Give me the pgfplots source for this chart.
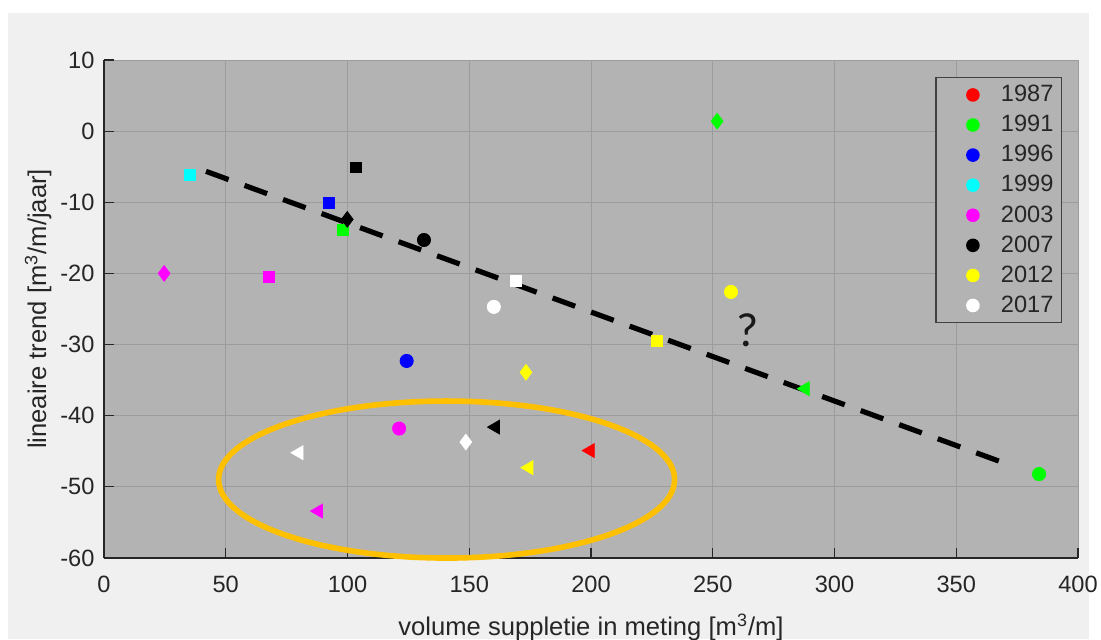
\documentclass[border=0pt]{standalone}
\usepackage{pgfplots}
\usepackage{pgfplotstable}
\pgfplotsset{compat=1.18}
\usepackage{fontspec}
\setmainfont{Liberation Sans}
\newfontfamily\qfont{Carlito}

\definecolor{figbg}{HTML}{F0F0F0}
\definecolor{axbg}{HTML}{B3B3B3}
\definecolor{gridc}{HTML}{9C9C9C}
\definecolor{txt}{HTML}{262626}
\definecolor{legc}{HTML}{404040}
\definecolor{gold}{HTML}{FFC000}
\definecolor{mred}{HTML}{FF0000}
\definecolor{mgreen}{HTML}{00FF00}
\definecolor{mblue}{HTML}{0000FF}
\definecolor{mcyan}{HTML}{00FFFF}
\definecolor{mmag}{HTML}{FF00FF}
\definecolor{myel}{HTML}{FFFF00}

% shape = measuring section, colour = year
\pgfplotstableread{
x     y     c
124.3 -32.3 bl
121.2 -41.8 mg
131.4 -15.3 bk
160.1 -24.7 wh
257.5 -22.6 ye
384.0 -48.2 gr
}\circles
\pgfplotstableread{
x     y     c
35.2  -6.1  cy
67.6  -20.5 mg
92.4  -10.1 bl
103.6 -5.1  bk
98.1  -13.9 gr
169.3 -21.0 wh
226.9 -29.5 ye
}\squares
\pgfplotstableread{
x     y     c
24.7  -20.0 mg
99.9  -12.4 bk
251.8 1.4   gr
173.3 -33.9 ye
148.6 -43.7 wh
}\diamonds
\pgfplotstableread{
x     y     c
80.1  -45.2 wh
88.1  -53.4 mg
160.8 -41.6 bk
174.5 -47.3 ye
199.7 -44.9 rd
288.0 -36.2 gr
}\triangles

\newcommand{\legdot}[1]{\addlegendimage{legend image code/.code={\fill[#1, draw=none] (15.5pt,0pt) circle[radius=3.4pt]; \path[draw=none, fill=none] (0pt,0pt) -- (28.5pt,0pt);}}}

\pgfplotsset{years/.style={only marks, scatter, scatter src=explicit symbolic, forget plot,
  scatter/classes={rd={mred}, gr={mgreen}, bl={mblue}, cy={mcyan}, mg={mmag}, bk={black}, ye={myel}, wh={white}}}}

\begin{document}
\begin{tikzpicture}
\fill[white] (-52pt,-40.5pt) rectangle (498.5pt,279pt);
\fill[figbg] (-48pt,-40.5pt) rectangle (492.5pt,272.5pt);
\begin{axis}[
  at={(0pt,0pt)}, anchor=south west,
  scale only axis, width=487pt, height=249pt,
  xmin=0, xmax=400, ymin=-60, ymax=10,
  xtick={0,50,...,400}, ytick={-60,-50,...,10},
  axis background/.style={fill=axbg},
  axis x line*=bottom, axis y line*=left,
  axis line style={txt, line width=0.6pt},
  tick align=inside, major tick length=5pt,
  tick style={txt, line width=0.6pt},
  grid=major, major grid style={gridc, line width=0.5pt},
  /pgf/number format/assume math mode=true,
  ticklabel style={font=\fontsize{11.8}{13}\selectfont, text=txt},
  xticklabel style={anchor=base, yshift=-17.3pt},
  yticklabel style={anchor=east, inner sep=0pt, xshift=-4.6pt},
  label style={font=\fontsize{12.8}{14}\selectfont, text=txt},
  xlabel={volume suppletie in meting [m\textsuperscript{3}/m]},
  ylabel={lineaire trend [m\textsuperscript{3}/m/jaar]},
  xlabel style={at={(0.5,-0.1546)}, anchor=base},
  ylabel style={at={(-0.0595,0.5)}, anchor=base},
  clip=false,
  legend style={at={(1,1)}, anchor=north east, xshift=-8pt, yshift=-8.5pt,
    fill=axbg, draw=legc, line width=0.6pt,
    font=\fontsize{11.8}{13}\selectfont, text=txt,
    inner xsep=3pt, inner ysep=2.8pt, row sep=3.3pt,
    nodes={inner sep=1pt}},
]
\legdot{mred}\addlegendentry{1987}
\legdot{mgreen}\addlegendentry{1991}
\legdot{mblue}\addlegendentry{1996}
\legdot{mcyan}\addlegendentry{1999}
\legdot{mmag}\addlegendentry{2003}
\legdot{black}\addlegendentry{2007}
\legdot{myel}\addlegendentry{2012}
\legdot{white}\addlegendentry{2017}

\draw[gold, line width=2.8pt] (axis cs:140.7,-48.97) ellipse [x radius=114pt, y radius=39.25pt];

\addplot[years, mark=*, mark size=3.3pt] table[meta=c] {\circles};
\addplot[years, mark=square*, mark size=2.7pt] table[meta=c] {\squares};
\addplot[years, mark=diamond*, mark size=3.9pt] table[meta=c] {\diamonds};
\addplot[years, mark=triangle*, mark size=4pt, mark options={rotate=90}] table[meta=c] {\triangles};

\addplot[black, line width=2.6pt, dash pattern=on 12pt off 8.5pt, forget plot] coordinates {(41.9,-5.65) (372.5,-47.0)};

\node[font=\qfont\fontsize{24}{28}\selectfont, text=black!90, anchor=base] at (axis cs:264.5,-30.3) {?};
\end{axis}
\pgfresetboundingbox
\path[use as bounding box] (-52pt,-40.5pt) rectangle (498.5pt,279pt);
\end{tikzpicture}
\end{document}
